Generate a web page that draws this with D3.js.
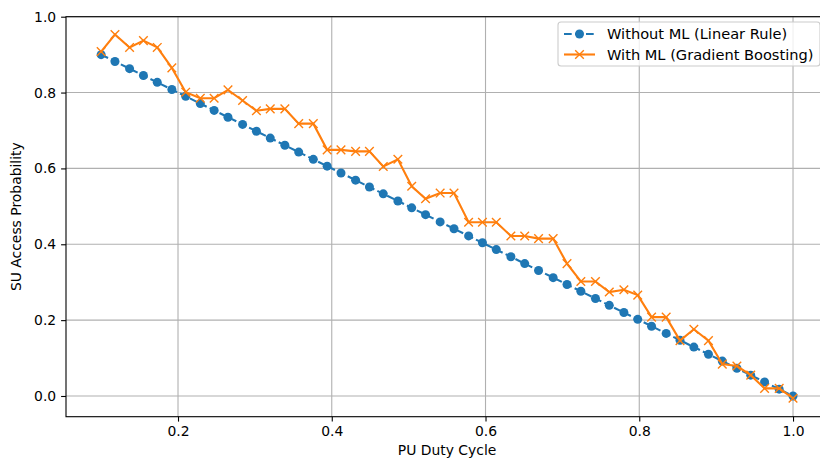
<!DOCTYPE html>
<html>
<head>
<meta charset="utf-8">
<script src="https://cdn.jsdelivr.net/npm/d3@7"></script>
<style>
  body { margin: 0; background: #fff; }
  text { font-family: "DejaVu Sans", sans-serif; }
</style>
</head>
<body>
<svg id="chart"></svg>
<script>
// duty cycle values (x)
var dutyCycle = [0.100, 0.118, 0.137, 0.155, 0.173, 0.192, 0.210, 0.229, 0.247, 0.265,
  0.284, 0.302, 0.320, 0.339, 0.357, 0.376, 0.394, 0.412, 0.431, 0.449,
  0.467, 0.486, 0.504, 0.522, 0.541, 0.559, 0.578, 0.596, 0.614, 0.633,
  0.651, 0.669, 0.688, 0.706, 0.724, 0.743, 0.761, 0.780, 0.798, 0.816,
  0.835, 0.853, 0.871, 0.890, 0.908, 0.927, 0.945, 0.963, 0.982, 1.000];

var withoutML = [0.900, 0.882, 0.863, 0.845, 0.827, 0.808, 0.790, 0.771, 0.753, 0.735,
  0.716, 0.698, 0.680, 0.661, 0.643, 0.624, 0.606, 0.588, 0.569, 0.551,
  0.533, 0.514, 0.496, 0.478, 0.459, 0.441, 0.422, 0.404, 0.386, 0.367,
  0.349, 0.331, 0.312, 0.294, 0.276, 0.257, 0.239, 0.220, 0.202, 0.184,
  0.165, 0.147, 0.129, 0.110, 0.092, 0.073, 0.055, 0.037, 0.018, 0.000];

var withML = [0.908, 0.953, 0.919, 0.937, 0.919, 0.865, 0.801, 0.785, 0.785, 0.807,
  0.779, 0.752, 0.757, 0.757, 0.718, 0.718, 0.649, 0.649, 0.645, 0.645,
  0.605, 0.624, 0.553, 0.520, 0.535, 0.535, 0.458, 0.458, 0.458, 0.422,
  0.422, 0.415, 0.415, 0.349, 0.302, 0.302, 0.274, 0.280, 0.266, 0.208,
  0.208, 0.146, 0.176, 0.146, 0.084, 0.079, 0.055, 0.020, 0.020, -0.006];

var xTicks = [0.2, 0.4, 0.6, 0.8, 1.0];
var yTicks = [0.0, 0.2, 0.4, 0.6, 0.8, 1.0];
var seriesNames = ["Without ML (Linear Rule)", "With ML (Gradient Boosting)"];

var W = 820, H = 458;
var mLeft = 66, mTop = 16.7, mRight = 828, mBottom = 416.7;
var blue = "#1f77b4", orange = "#ff7f0e";

var svg = d3.select("#chart").attr("width", W).attr("height", H);

var x = d3.scaleLinear().domain([0.0543, 1.0455]).range([mLeft, mRight]);
var y = d3.scaleLinear().domain([-0.0546, 1.0]).range([mBottom, mTop]);

svg.append("clipPath").attr("id", "clip")
  .append("rect").attr("x", mLeft).attr("y", mTop)
  .attr("width", mRight - mLeft).attr("height", mBottom - mTop);

// grid
var grid = svg.append("g");
grid.selectAll(".gx").data(xTicks).enter().append("line")
  .attr("x1", d => x(d)).attr("x2", d => x(d))
  .attr("y1", mTop).attr("y2", mBottom)
  .attr("stroke", "#b0b0b0").attr("stroke-width", 1.1);
grid.selectAll(".gy").data(yTicks).enter().append("line")
  .attr("x1", mLeft).attr("x2", mRight)
  .attr("y1", d => y(d)).attr("y2", d => y(d))
  .attr("stroke", "#b0b0b0").attr("stroke-width", 1.1);

var pts1 = dutyCycle.map((d, i) => [d, withoutML[i]]);
var pts2 = dutyCycle.map((d, i) => [d, withML[i]]);
var line = d3.line().x(d => x(d[0])).y(d => y(d[1]));

var plot = svg.append("g").attr("clip-path", "url(#clip)");

plot.append("path").datum(pts1)
  .attr("d", line).attr("fill", "none")
  .attr("stroke", blue).attr("stroke-width", 2.1)
  .attr("stroke-dasharray", "7.7,3.3");
plot.selectAll(".dot").data(pts1).enter().append("circle")
  .attr("cx", d => x(d[0])).attr("cy", d => y(d[1]))
  .attr("r", 4.5).attr("fill", blue);

plot.append("path").datum(pts2)
  .attr("d", line).attr("fill", "none")
  .attr("stroke", orange).attr("stroke-width", 2.1);

function xMark(g, cx, cy) {
  var s = 4.3;
  g.append("path")
    .attr("d", "M" + (cx - s) + "," + (cy - s) + "L" + (cx + s) + "," + (cy + s) +
      "M" + (cx - s) + "," + (cy + s) + "L" + (cx + s) + "," + (cy - s))
    .attr("stroke", orange).attr("stroke-width", 1.4).attr("fill", "none");
}
pts2.forEach(d => xMark(plot, x(d[0]), y(d[1])));

// axes
var xAxis = svg.append("g").attr("transform", "translate(0," + mBottom + ")")
  .call(d3.axisBottom(x).tickValues(xTicks).tickFormat(d3.format(".1f")).tickSizeOuter(0).tickSize(4.9).tickPadding(4.9));
var yAxis = svg.append("g").attr("transform", "translate(" + mLeft + ",0)")
  .call(d3.axisLeft(y).tickValues(yTicks).tickFormat(d3.format(".1f")).tickSizeOuter(0).tickSize(4.9).tickPadding(4.9));
[xAxis, yAxis].forEach(a => {
  a.select(".domain").remove();
  a.selectAll("text").attr("font-size", 13.9).attr("fill", "#000")
    .style("font-family", "DejaVu Sans, sans-serif");
  a.selectAll("line").attr("stroke", "#000").attr("stroke-width", 1.1);
});

// spines
svg.append("rect").attr("x", mLeft).attr("y", mTop)
  .attr("width", mRight - mLeft).attr("height", mBottom - mTop)
  .attr("fill", "none").attr("stroke", "#000").attr("stroke-width", 1.1);

svg.append("text").attr("x", x(0.55)).attr("y", 455)
  .attr("text-anchor", "middle").attr("font-size", 13.9)
  .text("PU Duty Cycle");
svg.append("text")
  .attr("transform", "translate(21," + ((mTop + mBottom) / 2) + ") rotate(-90)")
  .attr("text-anchor", "middle").attr("font-size", 13.9)
  .text("SU Access Probability");

// legend
var lg = svg.append("g");
lg.append("rect").attr("x", 558).attr("y", 22).attr("width", 262).attr("height", 44)
  .attr("rx", 3).attr("fill", "#fff").attr("fill-opacity", 0.8)
  .attr("stroke", "#cccccc").attr("stroke-width", 1.1);

lg.append("line").attr("x1", 564).attr("x2", 595).attr("y1", 34).attr("y2", 34)
  .attr("stroke", blue).attr("stroke-width", 2.1).attr("stroke-dasharray", "7.7,3.3");
lg.append("circle").attr("cx", 579.5).attr("cy", 34).attr("r", 4.5).attr("fill", blue);
lg.append("line").attr("x1", 564).attr("x2", 595).attr("y1", 54.5).attr("y2", 54.5)
  .attr("stroke", orange).attr("stroke-width", 2.1);
xMark(lg, 579.5, 54.5);

lg.selectAll(".lt").data(seriesNames).enter().append("text")
  .attr("x", 607).attr("y", (d, i) => 34 + i * 20.5)
  .attr("dy", "0.35em").attr("font-size", 14.6).attr("fill", "#000")
  .text(d => d);
</script>
</body>
</html>
